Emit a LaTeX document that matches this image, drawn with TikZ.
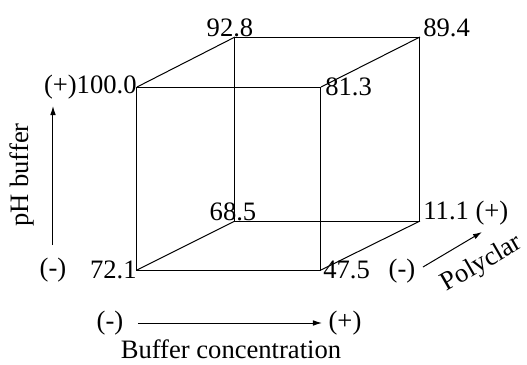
\documentclass[tikz,border=0pt]{standalone}
\usepackage{fontspec}
\setmainfont{Liberation Serif}
\usetikzlibrary{arrows.meta, positioning}

\begin{document}
\begin{tikzpicture}[
        x=0.5pt, y=-0.5pt,
        every node/.style={inner sep=0pt, font=\fontsize{13.3}{16}\selectfont},
        edge/.style={line width=0.5pt},
        axis/.style={line width=0.5pt, -{Latex[length=4.5pt, width=2.8pt]}}
    ]
        \useasboundingbox (0,0) rectangle (527,365);

        % Cantos do cubo
        \coordinate (ftl) at (137,87);
        \coordinate (ftr) at (321,87);
        \coordinate (fbl) at (137,270);
        \coordinate (fbr) at (321,270);
        \coordinate (btl) at (235,37);
        \coordinate (btr) at (420,37);
        \coordinate (bbl) at (235,221);
        \coordinate (bbr) at (420,221);

        % Arestas
        \draw[edge] (ftl) -- (ftr) -- (fbr) -- (fbl) -- cycle;
        \draw[edge] (btl) -- (btr) -- (bbr) -- (bbl) -- cycle;
        \draw[edge] (ftl) -- (btl);
        \draw[edge] (ftr) -- (btr);
        \draw[edge] (fbl) -- (bbl);
        \draw[edge] (fbr) -- (bbr);

        % Valores
        \node[anchor=east] (v100) at (ftl) {(+)100.0};
        \node[anchor=south, xshift=-2.5pt] (v928) at (btl) {92.8};
        \node[anchor=south west, xshift=1.5pt] (v894) at (btr) {89.4};
        \node[anchor=west, xshift=2pt] (v813) at (ftr) {81.3};
        \node[anchor=south, xshift=-1pt] (v685) at (bbl) {68.5};
        \node[anchor=west, xshift=1.5pt, yshift=4pt] (v111) at (bbr) {11.1 (+)};
        \node[anchor=east] (v721) at (fbl) {72.1};
        \node[anchor=west, xshift=1pt] (v475) at (fbr) {47.5};

        % Eixo pH
        \node (phminus) at (53,270) {(-)};
        \coordinate (phlow) at (53,245);
        \coordinate (phhigh) at (53,106);
        \draw[axis] (phlow) -- (phhigh);
        \node[rotate=90] (phlabel) at (22,175) {pH buffer};

        % Eixo concentracao
        \node (bcminus) at (110,323) {(-)};
        \node (bcplus) at (345,323) {(+)};
        \coordinate (bclow) at (138,323);
        \coordinate (bchigh) at (322,323);
        \draw[axis] (bclow) -- (bchigh);
        \node (bclabel) at (231,349) {Buffer concentration};

        % Eixo Polyclar
        \node (pcminus) at (402,271) {(-)};
        \coordinate (pclow) at (423,267);
        \coordinate (pchigh) at (482,232);
        \draw[axis] (pclow) -- (pchigh);
        \node[rotate=30] (pclabel) at (482,264) {Polyclar};
    \end{tikzpicture}
\end{document}
